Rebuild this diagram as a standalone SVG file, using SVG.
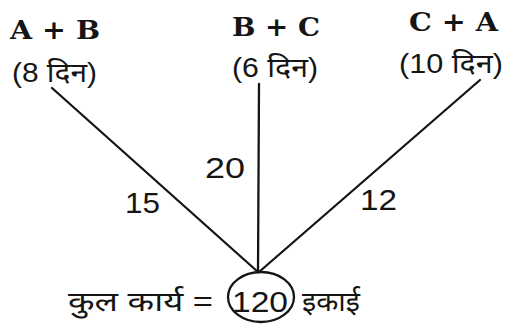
<svg xmlns="http://www.w3.org/2000/svg" width="506" height="324" viewBox="0 0 506 324">
<style>
.hd{font-family:"DejaVu Serif","Liberation Serif",serif;font-weight:bold;font-size:26px;fill:#151515}
.dy{font-family:"Liberation Sans","Noto Sans","Noto Sans Devanagari",sans-serif;font-size:27px;fill:#151515}
.num{font-family:"Liberation Sans","Noto Sans",sans-serif;font-size:29px;fill:#151515}
.ln{stroke:#151515;stroke-width:2.3;fill:none;stroke-linecap:round}
</style>
<rect width="506" height="324" fill="#ffffff"/>
<g id="connectors">
<line class="ln" x1="52" y1="88" x2="258" y2="272"/>
<line class="ln" x1="259" y1="84" x2="258" y2="272"/>
<line class="ln" x1="480" y1="80" x2="259" y2="272"/>
</g>
<g id="labels">
<text class="num" x="125" y="213" textLength="35" lengthAdjust="spacingAndGlyphs">15</text>
<text class="num" x="205" y="178" textLength="40" lengthAdjust="spacingAndGlyphs">20</text>
<text class="num" x="360" y="210" textLength="37" lengthAdjust="spacingAndGlyphs">12</text>
</g>
<g id="node-ab">
<text class="hd" x="10" y="39" textLength="90" lengthAdjust="spacingAndGlyphs">A + B</text>
<text class="dy" x="12" y="82" textLength="85" lengthAdjust="spacingAndGlyphs">(8 दिन)</text>
</g>
<g id="node-bc">
<text class="hd" x="232" y="36" textLength="88" lengthAdjust="spacingAndGlyphs">B + C</text>
<text class="dy" x="232" y="77" textLength="86" lengthAdjust="spacingAndGlyphs">(6 दिन)</text>
</g>
<g id="node-ca">
<text class="hd" x="409" y="31" textLength="89" lengthAdjust="spacingAndGlyphs">C + A</text>
<text class="dy" x="399" y="73" textLength="104" lengthAdjust="spacingAndGlyphs">(10 दिन)</text>
</g>
<g id="node-total">
<text class="dy" x="68" y="311" font-size="25" textLength="145" lengthAdjust="spacingAndGlyphs">कुल कार्य =</text>
<ellipse class="ln" cx="261" cy="297" rx="33" ry="25"/>
<text class="num" x="232" y="312" textLength="56" lengthAdjust="spacingAndGlyphs">120</text>
<text class="dy" x="302" y="311" font-size="25" textLength="58" lengthAdjust="spacingAndGlyphs">इकाई</text>
</g>
</svg>
